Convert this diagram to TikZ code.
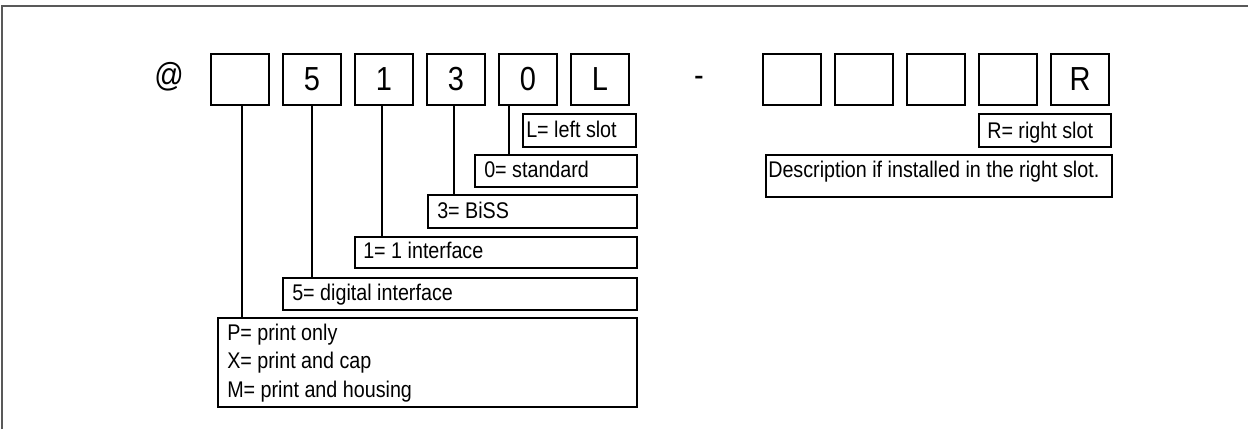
\documentclass[tikz,border=0pt]{standalone}
\usepackage{fontspec}
\setmainfont[FakeStretch=0.87]{Liberation Sans}
\usetikzlibrary{calc}
\newcommand\mybox[5]{\node[box, minimum width={(#4-#2)*0.75pt}, minimum height={(#5-#3)*0.75pt}] (#1) at (#2,#3) {};}
\begin{document}
\begin{tikzpicture}[x=0.75pt,y=-0.75pt,
  box/.style={draw, line width=1.5pt, inner sep=0pt, outer sep=0pt, anchor=north west},
  lbl/.style={anchor=base west, inner sep=0pt, font=\fontsize{17}{20}\selectfont},
  big/.style={anchor=base, inner sep=0pt, font=\fontsize{25}{30}\selectfont},
  conn/.style={line width=1.5pt}]
\useasboundingbox (0,0) rectangle (1248,429);
\draw[line width=1.5pt, black!65] (2,429) -- (2,6) -- (1248,6);
% code boxes
\mybox{b1}{211}{54}{269}{105}
\mybox{b2}{283}{54}{341}{105}
\mybox{b3}{355}{54}{413}{105}
\mybox{b4}{427}{54}{485}{105}
\mybox{b5}{499}{54}{557}{105}
\mybox{b6}{571}{54}{629}{105}
\mybox{r1}{763}{54}{821}{105}
\mybox{r2}{835}{54}{893}{105}
\mybox{r3}{907}{54}{965}{105}
\mybox{r4}{979}{54}{1037}{105}
\mybox{r5}{1051}{54}{1109}{105}
\node[big] (t2) at ($(b2.south)+(0,-15)$) {5};
\node[big] (t3) at ($(b3.south)+(0,-15)$) {1};
\node[big] (t4) at ($(b4.south)+(0,-15)$) {3};
\node[big] (t5) at ($(b5.south)+(0,-15)$) {0};
\node[big] (t6) at ($(b6.south)+(0,-15)$) {L};
\node[big] (tr) at ($(r5.south)+(0,-15)$) {R};
\node[big] (at) at (169,86) {@};
\node[big] (dash) at (699,86) {-};
% label boxes
\mybox{lL}{523}{114}{636}{147}
\mybox{l0}{475}{155}{637}{187}
\mybox{l3}{428}{195}{637}{228}
\mybox{l1}{355}{237}{637}{268}
\mybox{l5}{283}{278}{637}{310}
\mybox{lP}{218}{318}{637}{407}
\mybox{lR}{979}{114}{1111}{147}
\mybox{lD}{766}{155}{1112}{197}
\node[lbl] (xL) at (526,137) {L= left slot};
\node[lbl] (x0) at (484,177) {0= standard};
\node[lbl] (x3) at (437,218) {3= BiSS};
\node[lbl] (x1) at (363,258) {1= 1 interface};
\node[lbl] (x5) at (292,300) {5= digital interface};
\node[lbl] (xP1) at (227,340) {P= print only};
\node[lbl] (xP2) at (227,368) {X= print and cap};
\node[lbl] (xP3) at (227,397) {M= print and housing};
\node[lbl] (xR) at (987,138) {R= right slot};
\node[lbl] (xD) at (768,177) {Description if installed in the right slot.};
% connectors
\coordinate (c1) at ($(b1.south)+(2,0)$);
\coordinate (c2) at ($(b2.south)+(0,0)$);
\coordinate (c3) at ($(b3.south)+(-2,0)$);
\coordinate (c4) at ($(b4.south)+(-2,0)$);
\coordinate (c5) at ($(b5.south)+(-19,0)$);
\draw[conn] (c1) -- (c1 |- lP.north);
\draw[conn] (c2) -- (c2 |- l5.north);
\draw[conn] (c3) -- (c3 |- l1.north);
\draw[conn] (c4) -- (c4 |- l3.north);
\draw[conn] (c5) -- (c5 |- l0.north);
\end{tikzpicture}
\end{document}
